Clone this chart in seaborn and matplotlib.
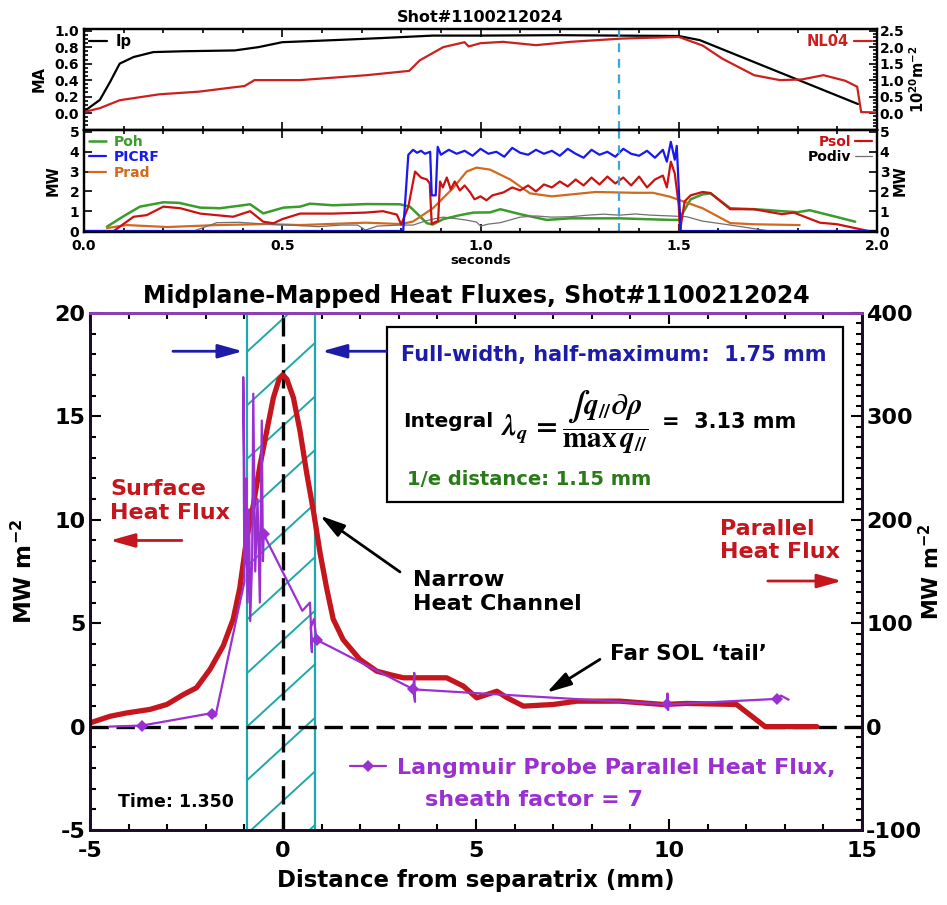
import numpy as np
import pandas as pd
import matplotlib
matplotlib.use("Agg")
import matplotlib.pyplot as plt
import seaborn as sns
from matplotlib.patches import Rectangle
from matplotlib.ticker import MultipleLocator, FixedLocator, FormatStrFormatter

# ===================== DATA =====================
shot_label = "Shot#1100212024"
time_slice = 1.35

# Panel 1: plasma current (MA) and line-integrated density NL04 (1e20 m^-2)
ip_time = [0.0, 0.04, 0.066, 0.09, 0.125, 0.175, 0.25, 0.38, 0.44, 0.50,
           0.63, 0.75, 0.88, 1.0, 1.2, 1.35, 1.5, 1.553, 1.952]
ip_ma = [0.02, 0.16, 0.38, 0.60, 0.68, 0.74, 0.75, 0.76, 0.80, 0.86,
         0.885, 0.91, 0.94, 0.94, 0.945, 0.94, 0.935, 0.885, 0.11]
nl_time = [0.003, 0.04, 0.09, 0.19, 0.29, 0.376, 0.405, 0.43, 0.545, 0.713, 0.82,
           0.847, 0.906, 0.96, 0.97, 1.0, 1.057, 1.14, 1.226, 1.357, 1.5,
           1.56, 1.61, 1.69, 1.755, 1.81, 1.865, 1.92, 1.95, 1.96, 2.0]
nl04 = [0.04, 0.15, 0.39, 0.57, 0.65, 0.78, 0.82, 1.0, 1.0, 1.15, 1.28,
        1.6, 2.0, 2.15, 2.02, 2.12, 2.16, 2.06, 2.16, 2.26, 2.31,
        2.05, 1.65, 1.15, 1.0, 1.02, 1.15, 0.98, 0.80, 0.03, 0.02]
ip_ticks = [0.0, 0.2, 0.4, 0.6, 0.8, 1.0]
nl_ticks = [0.0, 0.5, 1.0, 1.5, 2.0, 2.5]

# Panel 2: powers (MW), (time, value)
poh_pts = [(0.058, 0.22), (0.10, 0.75), (0.141, 1.23), (0.2, 1.45), (0.24, 1.42), (0.293, 1.18),
           (0.343, 1.15), (0.393, 1.28), (0.419, 1.35), (0.452, 0.89), (0.503, 1.18), (0.545, 1.23),
           (0.57, 1.38), (0.628, 1.3), (0.713, 1.36), (0.797, 1.35), (0.822, 1.23), (0.865, 0.39),
           (0.88, 0.33), (0.906, 0.6), (0.948, 0.8), (0.982, 0.93), (1.024, 0.94), (1.05, 1.1),
           (1.1, 0.85), (1.167, 0.56), (1.226, 0.64), (1.35, 0.64), (1.478, 0.56), (1.5, 0.56),
           (1.53, 1.6), (1.56, 1.85), (1.58, 1.9), (1.63, 1.15), (1.69, 1.1), (1.73, 1.05),
           (1.76, 1.0), (1.8, 0.95), (1.83, 1.05), (1.87, 0.85), (1.9, 0.7), (1.945, 0.47)]
picrf_pts = [(0.0, 0.0), (0.805, 0.0), (0.818, 3.85), (0.83, 4.1), (0.84, 3.95), (0.85, 4.05),
             (0.86, 3.9), (0.873, 4.0), (0.877, 1.8), (0.887, 1.8), (0.892, 4.25), (0.90, 3.85),
             (0.92, 4.1), (0.94, 3.9), (0.96, 4.05), (0.98, 3.8), (1.00, 4.15), (1.02, 3.9),
             (1.04, 4.0), (1.06, 3.75), (1.08, 4.2), (1.10, 3.95), (1.12, 3.85), (1.14, 4.1),
             (1.16, 3.9), (1.18, 4.05), (1.20, 3.8), (1.22, 4.15), (1.24, 3.9), (1.26, 3.7),
             (1.28, 4.1), (1.30, 3.85), (1.32, 4.0), (1.34, 3.75), (1.36, 4.15), (1.38, 3.9),
             (1.40, 3.8), (1.42, 4.05), (1.44, 3.7), (1.46, 4.1), (1.47, 3.5), (1.48, 4.5),
             (1.49, 3.6), (1.495, 4.3), (1.505, 0.0), (2.0, 0.0)]
prad_pts = [(0.058, 0.15), (0.108, 0.3), (0.21, 0.2), (0.335, 0.3), (0.46, 0.35), (0.545, 0.3),
            (0.71, 0.42), (0.8, 0.35), (0.83, 0.48), (0.88, 1.15), (0.93, 2.15), (0.965, 3.0),
            (0.99, 3.2), (1.024, 3.1), (1.075, 2.6), (1.125, 1.9), (1.18, 1.75), (1.29, 1.97),
            (1.39, 1.93), (1.435, 1.93), (1.478, 1.73), (1.56, 1.15), (1.63, 0.4), (1.69, 0.34),
            (1.805, 0.3)]
psol_pts = [(0.0, 0.0), (0.075, 0.0), (0.125, 0.72), (0.158, 0.8), (0.2, 1.23), (0.243, 1.15),
            (0.293, 0.88), (0.376, 0.72), (0.419, 1.0), (0.452, 0.47), (0.478, 0.39), (0.5, 0.6),
            (0.545, 0.88), (0.628, 0.88), (0.71, 0.93), (0.754, 1.0), (0.789, 0.83), (0.80, 0.33),
            (0.818, 1.23), (0.835, 3.0), (0.85, 2.7), (0.865, 2.6), (0.872, 2.4), (0.877, 0.35),
            (0.885, 0.45), (0.893, 0.5), (0.898, 2.5), (0.905, 2.2), (0.915, 2.7), (0.925, 2.1),
            (0.935, 2.5), (0.948, 2.05), (0.96, 2.3), (0.974, 1.95), (0.985, 1.6), (1.0, 1.75),
            (1.015, 1.55), (1.03, 1.8), (1.058, 1.95), (1.08, 2.2), (1.10, 2.05), (1.12, 2.3),
            (1.14, 2.0), (1.16, 2.35), (1.18, 2.2), (1.20, 2.5), (1.22, 2.25), (1.24, 2.6),
            (1.26, 2.3), (1.28, 2.7), (1.30, 2.35), (1.32, 2.75), (1.34, 2.4), (1.36, 2.7),
            (1.38, 2.3), (1.40, 2.75), (1.42, 2.2), (1.44, 2.6), (1.46, 2.8), (1.47, 2.2),
            (1.48, 3.5), (1.49, 2.9), (1.50, 1.3), (1.503, 0.0), (1.515, 1.5), (1.53, 1.8),
            (1.56, 1.97), (1.58, 1.92), (1.63, 1.1), (1.69, 1.1), (1.76, 0.85), (1.79, 0.93),
            (1.82, 0.7), (1.856, 0.42), (1.9, 0.34), (1.96, 0.08), (1.98, 0.0), (2.0, 0.0)]
podiv_pts = [(0.0, 0.0), (0.28, 0.02), (0.335, 0.42), (0.39, 0.44), (0.46, 0.35), (0.52, 0.3),
             (0.59, 0.22), (0.65, 0.3), (0.69, 0.3), (0.71, 0.05), (0.74, 0.25), (0.8, 0.3),
             (0.83, 0.3), (0.86, 0.5), (0.88, 0.6), (0.906, 0.7), (0.94, 0.62), (0.965, 0.55),
             (0.99, 0.45), (1.0, 0.25), (1.02, 0.35), (1.05, 0.42), (1.1, 0.7), (1.14, 0.76),
             (1.18, 0.7), (1.226, 0.72), (1.27, 0.8), (1.31, 0.85), (1.35, 0.8), (1.39, 0.86),
             (1.43, 0.8), (1.48, 0.76), (1.52, 0.72), (1.56, 0.5), (1.63, 0.3), (1.69, 0.12),
             (1.73, 0.0), (2.0, 0.0)]

# Bottom panel: surface heat flux (MW m^-2, left axis)
surf_x = [-5.0, -4.48, -4.05, -3.45, -3.01, -2.58, -2.24, -1.89, -1.55, -1.29,
          -1.12, -0.94, -0.77, -0.6, -0.42, -0.25, -0.1, 0.0, 0.1, 0.27,
          0.44, 0.61, 0.79, 0.96, 1.13, 1.3, 1.56, 1.99, 2.43, 2.8,
          3.12, 4.24, 4.67, 5.02, 5.54, 5.8, 6.23, 7.0, 7.61, 8.73,
          9.85, 10.46, 11.75, 12.49, 13.83]
surf_q = [0.18, 0.5, 0.66, 0.83, 1.07, 1.55, 1.88, 2.77, 3.9, 5.2,
          6.7, 9.1, 10.7, 12.6, 14.3, 15.9, 16.8, 17.0, 16.8, 15.9,
          14.3, 12.3, 10.4, 8.4, 6.7, 5.2, 4.2, 3.25, 2.68, 2.5,
          2.36, 2.36, 1.96, 1.39, 1.71, 1.4, 0.99, 1.07, 1.23, 1.23,
          1.07, 1.12, 1.07, 0.0, 0.0]
# Langmuir probe parallel heat flux (MW m^-2, right axis)
lp_x = [-4.5, -3.66, -2.9, -2.3, -2.0, -1.85, -1.75, -1.0, -1.03, -0.98,
        -0.95, -0.92, -0.88, -0.85, -0.8, -0.77, -0.72, -0.66, -0.6, -0.55,
        -0.52, -0.5, 0.5, 0.7, 0.75, 0.72, 0.8, 0.87, 3.38, 3.4,
        3.42, 3.38, 9.94, 9.96, 9.98, 9.94, 12.79, 12.9, 13.1]
lp_q = [0, 1, 6, 10, 12, 12.4, 10, 140, 338, 160,
        240, 120, 210, 102, 160, 322, 150, 220, 120, 296,
        160, 186, 112, 120, 72, 96, 104, 84, 36, 52,
        24, 36, 21.4, 32, 16, 21.4, 26.8, 30, 26]
lp_marker_x = [-3.66, -1.85, -0.5, 0.87, 3.38, 9.94, 12.79]
fwhm_edges = [-0.93, 0.82]

# ===================== STYLE =====================
sns.set_theme(style="ticks")
plt.rcParams.update({
    "font.family": ["DejaVu Sans"],
    "font.weight": "bold",
    "axes.labelweight": "bold",
    "axes.titleweight": "bold",
    "mathtext.fontset": "dejavusans",
    "axes.unicode_minus": False,
    "axes.edgecolor": "black",
    "axes.labelcolor": "black",
    "text.color": "black",
    "xtick.color": "black",
    "ytick.color": "black",
})

RED = "#c4161c"
PURPLE = "#9b30d0"
CYAN = "#1fa8a8"
BLUE_T = "#1c1ca8"
GREEN_T = "#2a7a1a"
TCYAN = "#3ea6d6"

fig = plt.figure(figsize=(9.47, 9.05), dpi=100)
L1, W1 = 84 / 947, 793 / 947
ax1 = fig.add_axes([L1, 1 - 130 / 905, W1, 101 / 905])
ax2 = fig.add_axes([L1, 1 - 232 / 905, W1, 102 / 905])
ax3 = fig.add_axes([90 / 947, 1 - 830 / 905, 772 / 947, 517 / 905])

def line(ax, x, y, **kw):
    sns.lineplot(x=list(x), y=list(y), ax=ax, sort=False, estimator=None, legend=False, **kw)
    return ax.lines[-1]

# ---------- Panel 1 ----------
h_ip = line(ax1, ip_time, ip_ma, color="black", lw=1.6)
ax1.axvline(time_slice, color=TCYAN, ls=(0, (4, 3)), lw=1.6)
ax1.set_xlim(0, 2)
ax1.set_ylim(-0.205, 1.02)
ax1r = ax1.twinx()
h_nl = line(ax1r, nl_time, nl04, color="#cc2020", lw=1.6)
ax1r.set_ylim(-0.5125, 2.55)
ax1.set_title(shot_label, fontsize=11.5, pad=5)
ax1.set_ylabel("MA", fontsize=10.5, labelpad=6)
ax1r.set_ylabel(r"10$^{\mathbf{20}}$m$^{\mathbf{-2}}$", fontsize=10.5, labelpad=3)
ax1.yaxis.set_major_locator(FixedLocator(ip_ticks))
ax1.yaxis.set_minor_locator(MultipleLocator(0.05))
ax1.yaxis.set_major_formatter(FormatStrFormatter("%.1f"))
ax1r.yaxis.set_major_locator(FixedLocator(nl_ticks))
ax1r.yaxis.set_minor_locator(MultipleLocator(0.1))
ax1r.yaxis.set_major_formatter(FormatStrFormatter("%.1f"))
ax1.legend(handles=[h_ip], labels=["Ip"], loc="upper left", frameon=False, fontsize=10.5,
           handlelength=1.2, handletextpad=0.6, borderaxespad=0.15, borderpad=0.2)
ax1r.legend(handles=[h_nl], labels=["NL04"], loc="upper right", frameon=False, fontsize=10.5,
            handlelength=1.2, handletextpad=0.4, borderaxespad=0.15, borderpad=0.2,
            markerfirst=False, labelcolor="#cc2020")

# ---------- Panel 2 ----------
series = {}
for name, pts, col, lw in [("Poh", poh_pts, "#3a9c2a", 1.8),
                           ("Prad", prad_pts, "#d2691e", 1.6),
                           ("Podiv", podiv_pts, "#707070", 0.9),
                           ("Psol", psol_pts, "#cc1111", 1.6),
                           ("PICRF", picrf_pts, "#1818f0", 1.6)]:
    t, v = zip(*pts)
    series[name] = line(ax2, t, v, color=col, lw=lw)
ax2.axvline(time_slice, color=TCYAN, ls=(0, (4, 3)), lw=1.6)
ax2.set_xlim(0, 2)
ax2.set_ylim(-0.05, 5.1)
ax2r = ax2.twinx()
ax2r.set_ylim(-0.05, 5.1)
for a in (ax2, ax2r):
    a.set_yticks([0, 1, 2, 3, 4, 5])
ax2.set_ylabel("MW", fontsize=10.5, labelpad=6)
ax2r.set_ylabel("MW", fontsize=10.5, labelpad=2)
ax2.set_xlabel("seconds", fontsize=9.5, labelpad=1)
ax2.xaxis.set_major_formatter(FormatStrFormatter("%.1f"))
ax2.legend(handles=[series["Poh"], series["PICRF"], series["Prad"]],
           labels=["Poh", "PICRF", "Prad"], loc="upper left", frameon=False, fontsize=10,
           labelcolor=["#3a9c2a", "#1818f0", "#d2691e"], handlelength=1.2,
           handletextpad=0.6, labelspacing=0.1, borderaxespad=0.15, borderpad=0.2)
ax2r.legend(handles=[series["Psol"], series["Podiv"]], labels=["Psol", "Podiv"],
            loc="upper right", frameon=False, fontsize=10, markerfirst=False,
            labelcolor=["#cc1111", "black"], handlelength=1.2, handletextpad=0.3,
            labelspacing=0.1, borderaxespad=0.15, borderpad=0.2)

for a in (ax1, ax2):
    a.xaxis.set_major_locator(MultipleLocator(0.5))
    a.xaxis.set_minor_locator(MultipleLocator(0.1))
    a.tick_params(axis="both", which="both", direction="in", top=True, right=False,
                  labelsize=10, width=1.2)
    a.tick_params(which="major", length=6)
    a.tick_params(which="minor", length=3)
    for s in a.spines.values():
        s.set_linewidth(1.6)
for a in (ax1r, ax2r):
    a.tick_params(axis="y", which="both", direction="in", left=False, right=True,
                  labelsize=10, width=1.2, pad=2)
    a.tick_params(which="major", length=6)
    a.tick_params(which="minor", length=3)
    for s in a.spines.values():
        s.set_linewidth(1.6)
ax1.tick_params(labelbottom=False)
ax2.tick_params(axis="x", pad=5)

# ---------- Bottom panel ----------
ax3.set_xlim(-5, 15)
ax3.set_ylim(-5, 20)
xl, xr = fwhm_edges
# hatched FWHM band
ax3.axvline(xl, color=CYAN, lw=1.6)
ax3.axvline(xr, color=CYAN, lw=1.6)
for k in range(-4, 10):
    c = 2.59 * k
    ax3.plot([xl, xr], [c, c + 3.0], color=CYAN, lw=1.4)
ax3.axhline(0, color="black", lw=2.4, ls=(0, (5.5, 2.3)))
ax3.axvline(0, color="black", lw=2.4, ls=(0, (5.5, 2.3)))
line(ax3, surf_x, surf_q, color=RED, lw=3.8)

ax3r = ax3.twinx()
ax3r.set_ylim(-100, 400)
marks = [lp_x.index(v) for v in lp_marker_x]
h_lp = line(ax3r, lp_x, lp_q, color=PURPLE, lw=1.6, marker="D", markersize=6,
            markevery=marks, markeredgewidth=0)

ax3.set_title("Midplane-Mapped Heat Fluxes, " + shot_label, fontsize=17, pad=7)
ax3.set_xlabel("Distance from separatrix (mm)", fontsize=16.5, labelpad=6)
ax3.set_ylabel(r"MW m$^{\mathbf{-2}}$", fontsize=16.5, labelpad=12)
ax3r.set_ylabel(r"MW m$^{\mathbf{-2}}$", fontsize=15, rotation=90)
ax3r.yaxis.set_label_coords(1.073, 0.5)

ax3.xaxis.set_major_locator(MultipleLocator(5))
ax3.xaxis.set_minor_locator(MultipleLocator(1))
ax3.yaxis.set_major_locator(MultipleLocator(5))
ax3.yaxis.set_minor_locator(MultipleLocator(1))
ax3r.yaxis.set_major_locator(MultipleLocator(100))
ax3r.yaxis.set_minor_locator(MultipleLocator(10))
ax3.tick_params(axis="both", which="both", direction="in", top=True, right=False,
                labelsize=16, width=1.5)
ax3.tick_params(which="major", length=8)
ax3.tick_params(which="minor", length=4)
ax3.tick_params(axis="x", pad=8)
ax3r.tick_params(axis="y", which="both", direction="in", left=False, right=True,
                 labelsize=16, width=1.5, pad=3)
ax3r.tick_params(which="major", length=8)
ax3r.tick_params(which="minor", length=4)
for a in (ax3, ax3r):
    for s in a.spines.values():
        s.set_linewidth(2.0)
        s.set_color("#1e0c28")
    a.spines["top"].set_color("#8a3fb5")

# annotation box
ax3.add_patch(Rectangle((0.3847, 0.6344), 0.5907, 0.3385, transform=ax3.transAxes,
                        facecolor="white", edgecolor="black", lw=1.6, zorder=3))
ax3.text(0.4028, 0.9188, "Full-width, half-maximum:  1.75 mm", transform=ax3.transAxes,
         color=BLUE_T, fontsize=15, ha="left", va="center", zorder=4)
ax3.text(0.4054, 0.7892, "Integral", transform=ax3.transAxes, fontsize=14.5,
         ha="left", va="center", zorder=4)
ax3.text(0.532, 0.7892,
         r"$\lambda_q\, = \dfrac{\int q_{//}\partial\rho}{\mathrm{max}\,q_{//}}$",
         transform=ax3.transAxes, fontsize=21, ha="left", va="center", zorder=4,
         math_fontfamily="stix")
ax3.text(0.741, 0.7892, "=  3.13 mm", transform=ax3.transAxes, fontsize=15,
         ha="left", va="center", zorder=4)
ax3.text(0.4106, 0.677, "1/e distance: 1.15 mm", transform=ax3.transAxes,
         color=GREEN_T, fontsize=14, ha="left", va="center", zorder=4)

# arrows and labels
aw = dict(arrowstyle="-|>,head_length=1.0,head_width=0.28", lw=2.0, mutation_scale=15,
          shrinkA=0, shrinkB=0)
ax3.annotate("", xy=(-1.04, 18.15), xytext=(-2.85, 18.15),
             arrowprops=dict(color=BLUE_T, **aw))
ax3.annotate("", xy=(1.01, 18.15), xytext=(2.67, 18.15),
             arrowprops=dict(color=BLUE_T, **aw))
ax3.text(-4.48, 10.9, "Surface\nHeat Flux", color=RED, fontsize=16, ha="left",
         va="center", linespacing=1.25)
ax3.annotate("", xy=(-4.48, 9.0), xytext=(-2.62, 9.0), arrowprops=dict(color=RED, **aw))
ax3.text(11.32, 9.0, "Parallel\nHeat Flux", color=RED, fontsize=16, ha="left",
         va="center", linespacing=1.2)
ax3.annotate("", xy=(14.48, 7.04), xytext=(12.56, 7.04), arrowprops=dict(color=RED, **aw))
ax3.text(3.37, 6.53, "Narrow\nHeat Channel", fontsize=16, ha="left", va="center",
         linespacing=1.25)
ax3.annotate("", xy=(0.96, 10.2), xytext=(3.03, 7.48), arrowprops=dict(color="black", **aw))
ax3.text(8.47, 3.5, "Far SOL \u2018tail\u2019", fontsize=15.5, ha="left", va="center")
ax3.annotate("", xy=(6.83, 1.64), xytext=(8.21, 3.25), arrowprops=dict(color="black", **aw))
ax3.text(-4.27, -3.63, "Time: 1.350", fontsize=12.5, ha="left", va="center")

ax3r.legend(handles=[h_lp], labels=["Langmuir Probe Parallel Heat Flux,"],
            loc="center left", bbox_to_anchor=(0.337, 0.12), frameon=False, fontsize=16,
            labelcolor=PURPLE, handlelength=1.6, handletextpad=0.5, borderpad=0,
            borderaxespad=0)
ax3.text(3.68, -3.54, "sheath factor = 7", color=PURPLE, fontsize=16, ha="left",
         va="center")

fig.savefig("out.png", dpi=100)
